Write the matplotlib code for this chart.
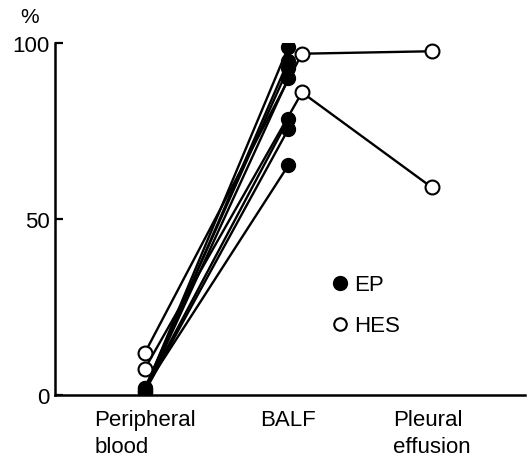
import matplotlib.pyplot as plt
from matplotlib.lines import Line2D

plt.rcParams["font.family"] = ["Liberation Sans", "DejaVu Sans"]

# sites sampled, in plotting order
sites = ["Peripheral\nblood", "BALF", "Pleural\neffusion"]
site_pos = [0, 1, 2]

# eosinophilic pneumonia: peripheral blood -> BALF (%)
ep_blood = [1.5, 1.0, 2.0, 1.0, 1.5, 1.0, 2.0]
ep_balf = [98.9, 95.0, 93.0, 90.0, 78.4, 75.6, 65.3]

# hypereosinophilic syndrome: blood -> BALF -> pleural effusion (%)
hes_blood = [12.0, 7.5]
hes_balf = [97.0, 86.0]
hes_pleural = [97.7, 59.0]

# HES markers at BALF sit slightly right of the EP column
HES_SHIFT = 0.095

LW = 1.7
MS = 10
FS = 16

fig = plt.figure(figsize=(5.28, 4.6), dpi=100)
ax = fig.add_axes([0.104, 0.139, 0.890, 0.765])

for b, l in zip(ep_blood, ep_balf):
    ax.plot([site_pos[0], site_pos[1]], [b, l], color="black", lw=LW,
            marker="o", ms=MS, mfc="black", mec="black", zorder=3)

for b, l, p in zip(hes_blood, hes_balf, hes_pleural):
    ax.plot([site_pos[0], site_pos[1] + HES_SHIFT, site_pos[2]], [b, l, p],
            color="black", lw=LW, marker="o", ms=MS, mfc="white",
            mec="black", mew=1.5, zorder=4)

ax.set_xlim(-0.627, 2.648)
ax.set_ylim(0, 100)
ax.set_yticks([0, 50, 100])
ax.set_xticks(site_pos)
ax.set_xticklabels(sites, fontsize=FS, ha="center", multialignment="left",
                   linespacing=1.35)
ax.tick_params(axis="x", length=0, pad=10)
ax.tick_params(axis="y", direction="in", length=6, width=1.6,
               labelsize=FS, pad=4)

for side in ("top", "right"):
    ax.spines[side].set_visible(False)
for side in ("left", "bottom"):
    ax.spines[side].set_linewidth(1.8)

ax.text(-0.053, 1.05, "%", transform=ax.transAxes, fontsize=FS - 1,
        ha="center", va="bottom")

handles = [
    Line2D([], [], ls="none", marker="o", ms=10, mfc="black", mec="black"),
    Line2D([], [], ls="none", marker="o", ms=9, mfc="white", mec="black",
           mew=1.5),
]
ax.legend(handles, ["EP", "HES"], loc="upper left",
          bbox_to_anchor=(0.55, 0.40), frameon=False, fontsize=FS,
          handlelength=0.6, handletextpad=0.35, labelspacing=0.9)

fig.savefig("out.png", dpi=100)
